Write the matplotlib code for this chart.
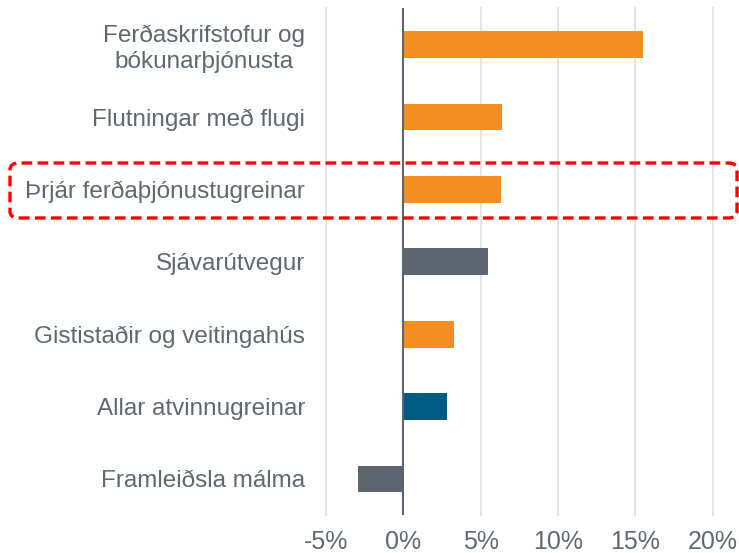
import matplotlib
matplotlib.use("Agg")
import matplotlib.pyplot as plt
from matplotlib.patches import FancyBboxPatch

categories = ["Ferðaskrifstofur og\nbókunarþjónusta", "Flutningar með flugi",
              "Þrjár ferðaþjónustugreinar", "Sjávarútvegur",
              "Gististaðir og veitingahús", "Allar atvinnugreinar",
              "Framleiðsla málma"]
values = [15.5, 6.4, 6.3, 5.5, 3.3, 2.8, -2.9]
colors = ["#F58E21", "#F58E21", "#F58E21", "#5D6670", "#F58E21", "#005B82", "#5D6670"]
xticks = [-5, 0, 5, 10, 15, 20]
xticklabels = ["-5%", "0%", "5%", "10%", "15%", "20%"]

plt.rcParams['font.family'] = ['Liberation Sans', 'DejaVu Sans']
W, H = 739, 553
fig = plt.figure(figsize=(W/100, H/100), dpi=100)
left, right = 326/W, 712.7/W
top, bottom = 1 - 8.3/H, 1 - 515.2/H
ax = fig.add_axes([left, bottom, right-left, top-bottom])

n = len(categories)
ypos = list(range(n))
ax.barh(ypos, values, height=0.37, color=colors, zorder=3)
ax.set_ylim(n - 0.5, -0.5)
ax.set_xlim(-5, 20)
ax.set_xticks(xticks)
ax.set_xticklabels(xticklabels, fontsize=18)
ax.set_yticks(ypos)
ax.set_yticklabels(categories, fontsize=17.5)
ax.tick_params(axis='both', length=0, colors="#5F6770")
ax.tick_params(axis='y', pad=15)
ax.tick_params(axis='x', pad=11)
for lbl in ax.get_yticklabels():
    lbl.set_horizontalalignment('right')
    lbl.set_multialignment('center')
for s in ax.spines.values():
    s.set_visible(False)
for x in xticks:
    if x != 0:
        ax.axvline(x, color="#E3E3E3", lw=1.5, zorder=1, clip_on=False)
ax.axvline(0, color="#5D6670", lw=1.5, zorder=4)

box = FancyBboxPatch((10/W, 1 - 218/H), (737-10)/W, (218-163)/H,
                     boxstyle="round,pad=0,rounding_size=0.012",
                     transform=fig.transFigure, fill=False, edgecolor="#FF0000",
                     linewidth=2.4, linestyle=(0, (3.2, 1.6)), zorder=10)
fig.patches.append(box)

fig.savefig("out.png", dpi=100)
